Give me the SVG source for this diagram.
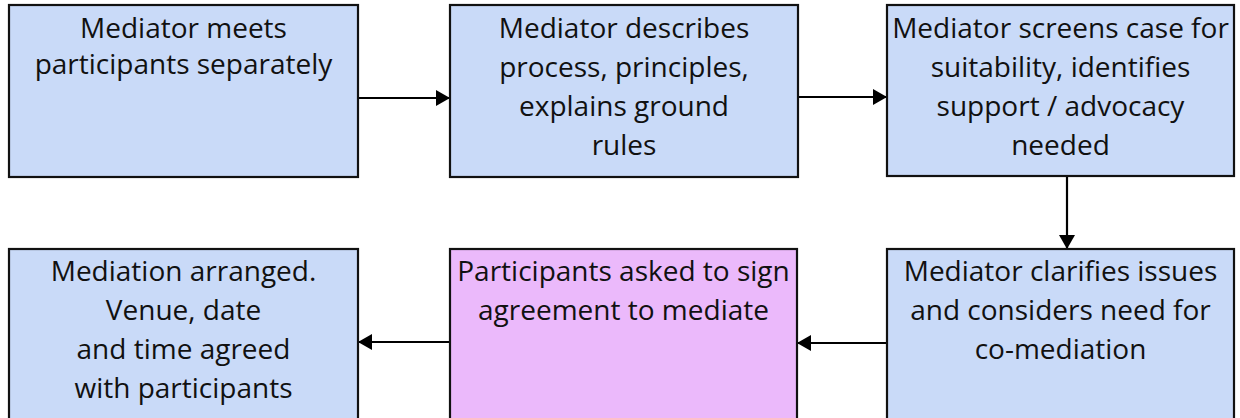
<svg xmlns="http://www.w3.org/2000/svg" width="1240" height="418" viewBox="0 0 1240 418">
<style>
.box{fill:#c9daf8;stroke:#111;stroke-width:2.2}
.pink{fill:#ebb9fb;stroke:#111;stroke-width:2.2}
.t{font-family:"Open Sans","Noto Sans","Liberation Sans",sans-serif;font-size:28px;fill:#111;text-anchor:middle}
.c{stroke:#000;stroke-width:2.2;fill:none;marker-end:url(#ah)}
</style>
<defs>
<marker id="ah" markerUnits="userSpaceOnUse" markerWidth="15" markerHeight="16" refX="14" refY="8" orient="auto" viewBox="0 0 15 16">
<path d="M0,0 L14,8 L0,16 Z" fill="#000"/>
</marker>
</defs>
<rect width="1240" height="418" fill="#fff"/>
<g id="connectors">
<line class="c" x1="358" y1="98" x2="450" y2="98"/>
<line class="c" x1="798" y1="97" x2="887" y2="97"/>
<line class="c" x1="1067" y1="176" x2="1067" y2="249"/>
<line class="c" x1="887" y1="343" x2="797" y2="343"/>
<line class="c" x1="450" y1="342" x2="358" y2="342"/>
</g>
<g id="n1">
<rect class="box" x="9" y="5" width="349" height="172"/>
<text class="t" x="183.5" y="37.5">Mediator meets</text>
<text class="t" x="183.5" y="74">participants separately</text>
</g>
<g id="n2">
<rect class="box" x="450" y="5" width="348" height="172"/>
<text class="t" x="624" y="37.5">Mediator describes</text>
<text class="t" x="624" y="76.5">process, principles,</text>
<text class="t" x="624" y="115.5">explains ground</text>
<text class="t" x="624" y="154.5">rules</text>
</g>
<g id="n3">
<rect class="box" x="887" y="5" width="347" height="171"/>
<text class="t" x="1060.5" y="37.5">Mediator screens case for</text>
<text class="t" x="1060.5" y="76.5">suitability, identifies</text>
<text class="t" x="1060.5" y="115.5">support / advocacy</text>
<text class="t" x="1060.5" y="154.5">needed</text>
</g>
<g id="n4">
<rect class="box" x="887" y="249" width="347" height="180"/>
<text class="t" x="1060.5" y="281">Mediator clarifies issues</text>
<text class="t" x="1060.5" y="320">and considers need for</text>
<text class="t" x="1060.5" y="359">co-mediation</text>
</g>
<g id="n5">
<rect class="pink" x="450" y="249" width="347" height="180"/>
<text class="t" x="623.5" y="281">Participants asked to sign</text>
<text class="t" x="623.5" y="320">agreement to mediate</text>
</g>
<g id="n6">
<rect class="box" x="9" y="249" width="349" height="180"/>
<text class="t" x="183.5" y="281">Mediation arranged.</text>
<text class="t" x="183.5" y="320">Venue, date</text>
<text class="t" x="183.5" y="359">and time agreed</text>
<text class="t" x="183.5" y="398">with participants</text>
</g>
</svg>
